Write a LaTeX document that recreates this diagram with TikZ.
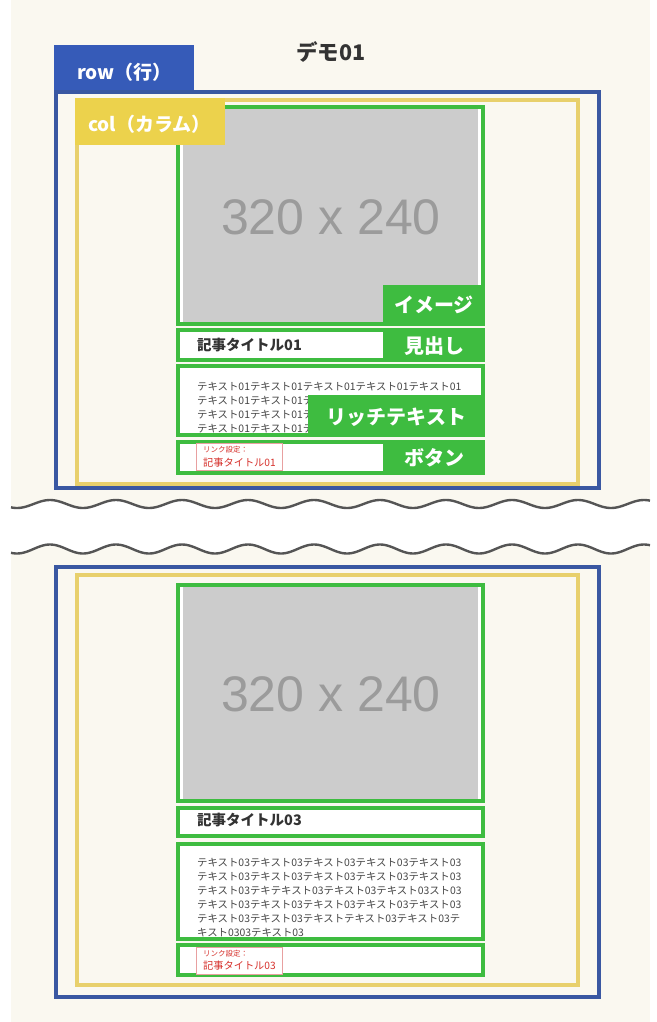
\documentclass[tikz,border=0pt]{standalone}
\usepackage{fontspec}
\setmainfont{Noto Sans CJK JP}
\newfontfamily\phfont{Liberation Sans}
\definecolor{cream}{RGB}{250,248,240}
\definecolor{rowtab}{RGB}{54,91,184}
\definecolor{rowline}{RGB}{58,88,162}
\definecolor{coltab}{RGB}{236,210,76}
\definecolor{colline}{RGB}{232,208,108}
\definecolor{grn}{RGB}{62,188,64}
\definecolor{imggray}{RGB}{204,204,204}
\definecolor{phgray}{RGB}{155,155,155}
\definecolor{wavegray}{RGB}{85,85,85}
\definecolor{dark}{RGB}{51,51,51}
\definecolor{body}{RGB}{70,70,70}
\definecolor{linkred}{RGB}{214,48,43}
\definecolor{linkline}{RGB}{232,160,160}
\tikzset{
  rowframe/.style={draw=rowline, line width=4pt},
  colframe/.style={draw=colline, line width=4pt},
  gbox/.style={draw=grn, fill=white, line width=4pt},
  glabel/.style={fill=grn},
  gtext/.style={text=white, font=\fontsize{20}{22}\selectfont\bfseries, inner sep=0pt},
  tabtext/.style={text=white, font=\fontsize{19}{21}\selectfont\bfseries, inner sep=0pt, anchor=west},
  headtext/.style={text=dark, font=\fontsize{14.5}{16}\selectfont\bfseries, inner sep=0pt, anchor=west},
  bodytext/.style={text=body, font=\fontsize{10.4}{12}\selectfont, inner sep=0pt, anchor=base west},
  linksmall/.style={text=linkred, font=\fontsize{7.5}{9}\selectfont, inner sep=0pt, anchor=west},
  linkbig/.style={text=linkred, font=\fontsize{10.2}{12}\selectfont, inner sep=0pt, anchor=west},
  linkbox/.style={draw=linkline, fill=white, line width=0.8pt},
  phtext/.style={text=phgray, font=\phfont\fontsize{50}{52}\selectfont, inner sep=0pt},
  wave/.style={draw=wavegray, line width=2.4pt},
}
\begin{document}
\begin{tikzpicture}[x=1pt,y=-1pt]
\useasboundingbox (0,0) rectangle (656,1022);
% background
\fill[cream] (11,0) rectangle (650,1022);
\fill[white] plot[domain=11:650,samples=300] (\x,{504-4*cos(5.4545*(\x-50))})
  -- plot[domain=650:11,samples=300] (\x,{549-4.5*cos(5.4545*(\x-50))}) -- cycle;
\draw[wave] plot[domain=11:650,samples=300] (\x,{504-4*cos(5.4545*(\x-50))});
\draw[wave] plot[domain=11:650,samples=300] (\x,{549-4.5*cos(5.4545*(\x-50))});

% title
\node[text=dark, font=\fontsize{21.5}{23}\selectfont\bfseries, inner sep=0pt] (title) at (331,52) {デモ01};

% ===== section 1 =====
\fill[rowtab] (54,45) rectangle (194,91);
\node[tabtext] (rowlbl) at (77,72) {row（行）};
\draw[rowframe] (56,92) rectangle (599,488);
\draw[colframe] (77,100) rectangle (578,484);

% image
\draw[gbox] (178,107) rectangle (483,324);
\fill[imggray] (183,109) rectangle (478,322);
\node[phtext] (ph1) at (331,217) {320 x 240};
\fill[glabel] (383,285) rectangle (485,326);
\node[gtext] (lblimg) at (434,305) {イメージ};

% heading
\draw[gbox] (178,330) rectangle (483,360);
\node[headtext] (head1) at (197,345) {記事タイトル01};
\fill[glabel] (383,328) rectangle (485,362);
\node[gtext] (lblhead) at (434,346) {見出し};

% rich text
\fill[white] (180,367) rectangle (481,433);
\node[bodytext] (t1-1) at (197,390) {テキスト01テキスト01テキスト01テキスト01テキスト01};
\foreach \i/\yy in {2/404,3/418,4/432}{
  \node[bodytext] (t1-\i) at (197,\yy) {テキスト01テキスト01テ};
}
\draw[draw=grn, line width=4pt] (178,365.5) rectangle (483,435);
\fill[glabel] (308,395) rectangle (485,437);
\node[gtext] (lbltext) at (396.5,417) {リッチテキスト};

% button
\draw[gbox] (178,441.5) rectangle (483,473);
\draw[linkbox] (196.5,443.5) rectangle (282.5,470.5);
\node[linksmall] (ls1) at (203,450) {リンク設定：};
\node[linkbig] (lb1) at (203,462.5) {記事タイトル01};
\fill[glabel] (383,439.5) rectangle (485,475);
\node[gtext] (lblbtn) at (434,458) {ボタン};

% col tab (on top)
\fill[coltab] (75,98) rectangle (225,145);
\node[tabtext] (collbl) at (88,124) {col（カラム）};

% ===== section 2 =====
\draw[rowframe] (56,567) rectangle (599,997);
\draw[colframe] (77,575) rectangle (578,985);

\draw[gbox] (178,585) rectangle (483,801);
\fill[imggray] (183,587) rectangle (478,799);
\node[phtext] (ph2) at (331,694) {320 x 240};

\draw[gbox] (178,808) rectangle (483,836);
\node[headtext] (head2) at (197,820) {記事タイトル03};

\draw[gbox] (178,844) rectangle (483,939);
\node[bodytext] (t2-1) at (197,866) {テキスト03テキスト03テキスト03テキスト03テキスト03};
\node[bodytext] (t2-2) at (197,880) {テキスト03テキスト03テキスト03テキスト03テキスト03};
\node[bodytext] (t2-3) at (197,894) {テキスト03テキテキスト03テキスト03テキスト03スト03};
\node[bodytext] (t2-4) at (197,908) {テキスト03テキスト03テキスト03テキスト03テキスト03};
\node[bodytext] (t2-5) at (197,922) {テキスト03テキスト03テキストテキスト03テキスト03テ};
\node[bodytext] (t2-6) at (197,936) {キスト0303テキスト03};

\draw[gbox] (178,945) rectangle (483,975);
\draw[linkbox] (196.5,947) rectangle (282.5,974);
\node[linksmall] (ls2) at (203,954) {リンク設定：};
\node[linkbig] (lb2) at (203,966) {記事タイトル03};
\end{tikzpicture}
\end{document}
